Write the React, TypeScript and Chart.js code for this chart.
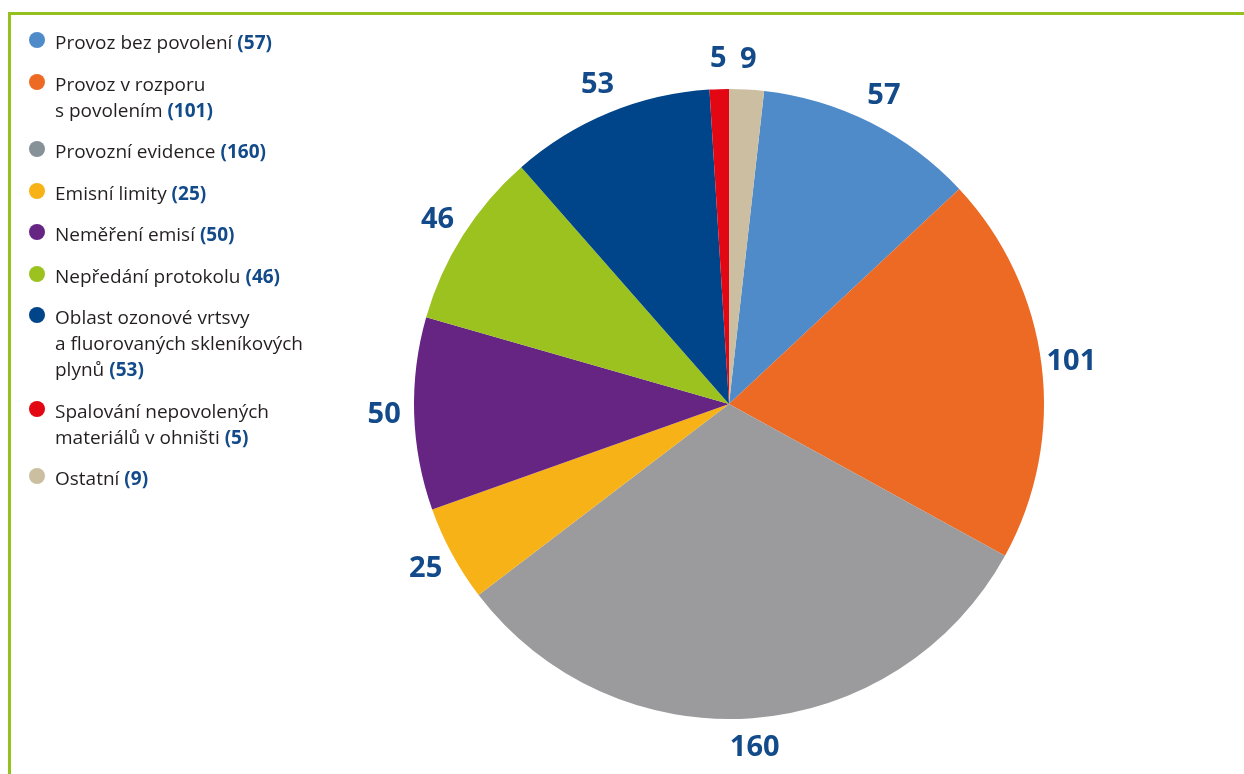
import React, { useEffect, useRef } from "react";
import { Chart, registerables } from "chart.js";

Chart.register(...registerables);

const categories: string[][] = [
  ["Provoz bez povolení"],
  ["Provoz v rozporu", "s povolením"],
  ["Provozní evidence"],
  ["Emisní limity"],
  ["Neměření emisí"],
  ["Nepředání protokolu"],
  ["Oblast ozonové vrtsvy", "a fluorovaných skleníkových", "plynů"],
  ["Spalování nepovolených", "materiálů v ohništi"],
  ["Ostatní"],
];
const values: number[] = [57, 101, 160, 25, 50, 46, 53, 5, 9];
const sliceColors: string[] = [
  "#4f8ac9",
  "#ec6a23",
  "#9b9b9d",
  "#f7b217",
  "#662483",
  "#9bc21f",
  "#004489",
  "#e30613",
  "#cbbea1",
];
const legendDotColors: string[] = [
  "#4f8ac9",
  "#ec6a23",
  "#869198",
  "#f7b217",
  "#662483",
  "#9bc21f",
  "#004489",
  "#e30613",
  "#cbbea1",
];

const VALUE_COLOR = "#124a8a";
const TEXT_COLOR = "#231f20";
const FONT = "'Open Sans', 'Noto Sans', sans-serif";

const total = values.reduce((a, b) => a + b, 0);
const lastValue = values[values.length - 1];

const outsideLabels = {
  id: "outsideLabels",
  afterDatasetsDraw(chart: any) {
    const ctx = chart.ctx;
    const meta = chart.getDatasetMeta(0);
    ctx.save();
    ctx.font = `bold 29px ${FONT}`;
    ctx.fillStyle = VALUE_COLOR;
    ctx.textAlign = "center";
    ctx.textBaseline = "middle";
    meta.data.forEach((arc: any, i: number) => {
      const p = arc.getProps(["x", "y", "startAngle", "endAngle", "outerRadius"], true);
      const mid = (p.startAngle + p.endAngle) / 2;
      const r = p.outerRadius + 30;
      ctx.fillText(String(values[i]), p.x + Math.cos(mid) * r, p.y + Math.sin(mid) * r);
    });
    ctx.restore();
  },
};

export default function App() {
  const canvasRef = useRef<HTMLCanvasElement | null>(null);

  useEffect(() => {
    if (!canvasRef.current) return;
    const chart = new Chart(canvasRef.current, {
      type: "pie",
      data: {
        labels: categories.map((c) => c.join(" ")),
        datasets: [
          {
            data: values,
            backgroundColor: sliceColors,
            borderWidth: 0,
          },
        ],
      },
      options: {
        animation: false,
        responsive: false,
        maintainAspectRatio: false,
        rotation: (360 * lastValue) / total,
        radius: 315,
        layout: { padding: { left: 214, top: 34, right: 0, bottom: 0 } },
        plugins: {
          legend: { display: false },
          tooltip: { enabled: false },
        },
      },
      plugins: [outsideLabels],
    });
    return () => chart.destroy();
  }, []);

  return (
    <div
      style={{
        position: "absolute",
        left: 0,
        top: 0,
        width: 1244,
        height: 774,
        overflow: "hidden",
        background: "#ffffff",
        fontFamily: FONT,
      }}
    >
      <div
        style={{
          position: "absolute",
          left: 8,
          top: 12,
          width: 1300,
          height: 800,
          borderTop: "3px solid #95c11f",
          borderLeft: "3px solid #95c11f",
        }}
      />
      <canvas
        ref={canvasRef}
        width={1244}
        height={774}
        style={{ position: "absolute", left: 0, top: 0, width: 1244, height: 774 }}
      />
      <div style={{ position: "absolute", left: 29, top: 29, width: 320 }}>
        {categories.map((lines, i) => (
          <div
            key={i}
            style={{ position: "relative", paddingLeft: 26, marginBottom: 15.5 }}
          >
            <span
              style={{
                position: "absolute",
                left: 0,
                top: 3,
                width: 16,
                height: 16,
                borderRadius: "50%",
                background: legendDotColors[i],
              }}
            />
            {lines.map((line, j) => (
              <div
                key={j}
                style={{
                  fontSize: 19,
                  lineHeight: "26px",
                  color: TEXT_COLOR,
                  whiteSpace: "nowrap",
                }}
              >
                {line}
                {j === lines.length - 1 && (
                  <span style={{ fontWeight: 700, color: VALUE_COLOR }}>
                    {" "}({values[i]})
                  </span>
                )}
              </div>
            ))}
          </div>
        ))}
      </div>
    </div>
  );
}
